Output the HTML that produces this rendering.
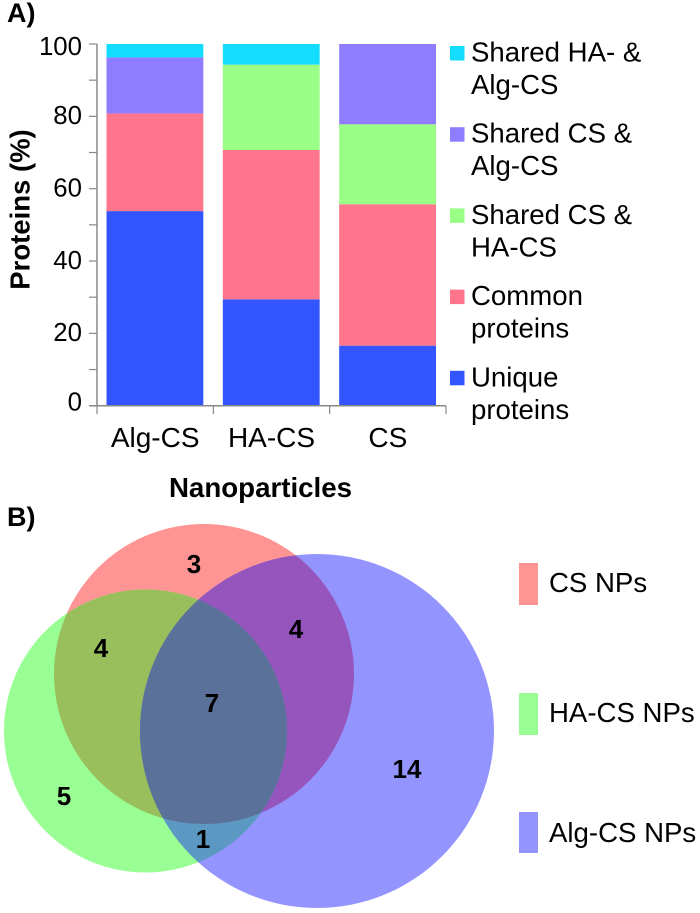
<!DOCTYPE html>
<html lang="en">
<head>
<meta charset="utf-8">
<title>Proteins in nanoparticles</title>
<style>
html,body{margin:0;padding:0;background:#fff;}
svg{display:block;font-family:"Liberation Sans",Arial,sans-serif;fill:#000;}
</style>
</head>
<body>
<svg id="figure" width="700" height="913" viewBox="0 0 700 913" xmlns="http://www.w3.org/2000/svg">
  <defs>
    <clipPath id="clip-red"><circle cx="204" cy="674" r="150"/></clipPath>
    <clipPath id="clip-green"><circle cx="145.5" cy="731" r="141.5"/></clipPath>
    <clipPath id="clip-green-red" clip-path="url(#clip-red)"><circle cx="145.5" cy="731" r="141.5"/></clipPath>
  </defs>

  <g id="panel-a">
    <text x="7" y="22" font-size="27" font-weight="bold">A)</text>
    <g id="chart"></g>
    <text transform="translate(29.5,209.5) rotate(-90)" text-anchor="middle" font-size="27.5" font-weight="bold">Proteins (%)</text>
    <text x="260.5" y="497" text-anchor="middle" font-size="27.7" font-weight="bold">Nanoparticles</text>
    <g id="legend"></g>
  </g>

  <g id="panel-b">
    <text x="7" y="526" font-size="27" font-weight="bold">B)</text>
    <circle cx="204" cy="674" r="150" fill="#ff9494"/>
    <circle cx="145.5" cy="731" r="141.5" fill="#99ff94"/>
    <circle cx="317" cy="731" r="177" fill="#9494ff"/>
    <circle cx="145.5" cy="731" r="141.5" fill="#99bf5c" clip-path="url(#clip-red)"/>
    <circle cx="317" cy="731" r="177" fill="#9555bd" clip-path="url(#clip-red)"/>
    <circle cx="317" cy="731" r="177" fill="#5c99c2" clip-path="url(#clip-green)"/>
    <circle cx="317" cy="731" r="177" fill="#5a7199" clip-path="url(#clip-green-red)"/>
    <g font-size="26" font-weight="bold" text-anchor="middle">
      <text x="194" y="573">3</text>
      <text x="101" y="657">4</text>
      <text x="296" y="638">4</text>
      <text x="212" y="712">7</text>
      <text x="64" y="805">5</text>
      <text x="203" y="848">1</text>
      <text x="407" y="778">14</text>
    </g>
    <rect x="519" y="563" width="19" height="42" fill="#ff9494"/>
    <text x="549" y="592" font-size="27.6">CS NPs</text>
    <rect x="519" y="693" width="19" height="42" fill="#99ff94"/>
    <text x="549" y="722" font-size="27.6">HA-CS NPs</text>
    <rect x="519" y="812" width="19" height="41" fill="#9494ff"/>
    <text x="549" y="842" font-size="27.6">Alg-CS NPs</text>
  </g>
</svg>
<script>
const categories = ['Alg-CS', 'HA-CS', 'CS'];
const seriesNames = ['Unique proteins', 'Common proteins', 'Shared CS & HA-CS', 'Shared CS & Alg-CS', 'Shared HA- & Alg-CS'];
const uniqueValues = [53.8, 29.4, 16.6];
const commonValues = [27.0, 41.3, 39.1];
const sharedCsHaValues = [0, 23.6, 22.1];
const sharedCsAlgValues = [15.5, 0, 22.2];
const sharedHaAlgValues = [3.7, 5.7, 0];
const yTicks = [0, 20, 40, 60, 80, 100];
const yMinorTicks = [10, 30, 50, 70, 90];

const series = [uniqueValues, commonValues, sharedCsHaValues, sharedCsAlgValues, sharedHaAlgValues];
const seriesColors = ['#3355ff', '#ff758c', '#99ff85', '#8f7dff', '#14dcff'];
const NS = 'http://www.w3.org/2000/svg';
const plot = { left: 97, right: 446, top: 44, bottom: 405.7, max: 100 };
const yScale = v => plot.bottom - (v / plot.max) * (plot.bottom - plot.top);
const bandWidth = (plot.right - plot.left) / categories.length;
const xBand = i => plot.left + i * bandWidth;
const chart = document.getElementById('chart');
const legend = document.getElementById('legend');

function make(parent, tag, attrs, text) {
  const el = document.createElementNS(NS, tag);
  for (const k in attrs) el.setAttribute(k, attrs[k]);
  if (text !== undefined) el.textContent = text;
  parent.appendChild(el);
  return el;
}

categories.forEach((cat, i) => {
  let cumulative = 0;
  series.forEach((values, s) => {
    const v = values[i];
    const top = yScale(cumulative + v);
    const bottom = yScale(cumulative);
    cumulative += v;
    if (v <= 0) return;
    const bar = make(chart, 'rect', { x: xBand(i) + 9.5, y: top, width: bandWidth - 19.5, height: bottom - top, fill: seriesColors[s] });
    
    
  });
  const label = make(chart, 'text', { x: xBand(i) + bandWidth / 2, y: 447, 'text-anchor': 'middle', 'font-size': 28 }, cat);
  
  
});

const yAxis = make(chart, 'line', { x1: plot.left, x2: plot.left, y1: plot.top, y2: plot.bottom, stroke: '#888', 'stroke-width': 1.5 });


const xAxis = make(chart, 'line', { x1: 89, x2: plot.right, y1: plot.bottom, y2: plot.bottom, stroke: '#888', 'stroke-width': 1.5 });



yTicks.concat(yMinorTicks).forEach(t => {
  const tick = make(chart, 'line', { x1: 89, x2: plot.left, y1: yScale(t), y2: yScale(t), stroke: '#888', 'stroke-width': 1.2 });
  
  
});
yTicks.forEach((t, i) => {
  const drop = i === 0 ? 5 : (i === yTicks.length - 1 ? 11 : 7.8);
  const label = make(chart, 'text', { x: 82, y: yScale(t) + drop, 'text-anchor': 'end', 'font-size': 25.8 }, String(t));
  
  
});
for (let i = 0; i <= categories.length; i++) {
  const tick = make(chart, 'line', { x1: xBand(i), x2: xBand(i), y1: plot.bottom, y2: 414, stroke: '#888', 'stroke-width': 1.2 });
  
  
}

const legendLines = [
  ['Unique', 'proteins'],
  ['Common', 'proteins'],
  ['Shared CS &', 'HA-CS'],
  ['Shared CS &', 'Alg-CS'],
  ['Shared HA- &', 'Alg-CS']
];
seriesNames.forEach((name, s) => {
  const row = seriesNames.length - 1 - s;
  const swatchY = 46 + row * 81.2;
  const entry = make(legend, 'g', {});
  
  
  const swatch = make(entry, 'rect', { x: 450, y: swatchY, width: 14.5, height: 14.5, fill: seriesColors[s] });
  
  
  legendLines[s].forEach((line, l) => {
    const text = make(entry, 'text', { x: 471, y: swatchY + 15.5 + l * 32.5, 'font-size': 27.6 }, line);
    
    
  });
});
</script>
</body>
</html>
